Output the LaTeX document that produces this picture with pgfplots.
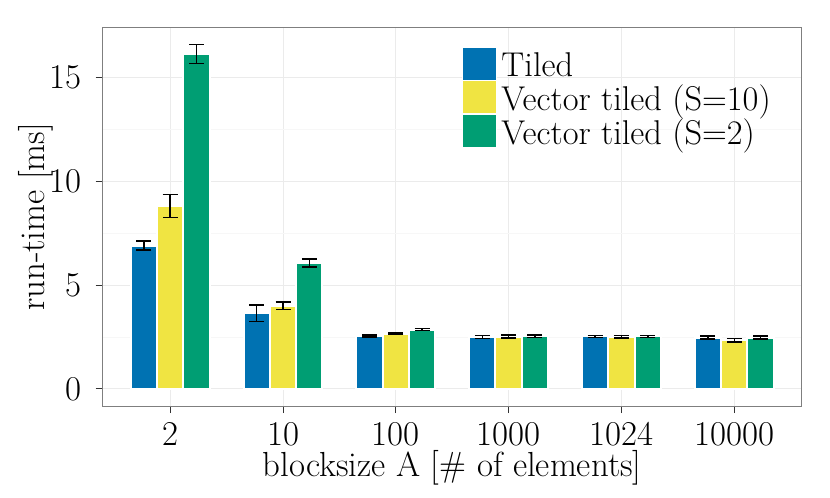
\documentclass[border=0pt]{standalone}
\usepackage{fontspec}
\usepackage{pgfplots}
\pgfplotsset{compat=1.18}
\usepackage{pgfplotstable}
\definecolor{cblue}{HTML}{0072B2}
\definecolor{cyellow}{HTML}{F0E442}
\definecolor{cgreen}{HTML}{009E73}
\definecolor{gmajor}{HTML}{EBEBEB}
\definecolor{gminor}{HTML}{F7F7F7}
\definecolor{gborder}{HTML}{7F7F7F}
\definecolor{gtick}{HTML}{333333}
\pgfplotstableread{
x y e
1 6.90 0.22
2 3.65 0.40
3 2.55 0.05
4 2.50 0.07
5 2.53 0.05
6 2.47 0.08
}\tiled
\pgfplotstableread{
x y e
1 8.80 0.55
2 4.00 0.18
3 2.66 0.03
4 2.52 0.08
5 2.51 0.06
6 2.34 0.08
}\vecten
\pgfplotstableread{
x y e
1 16.12 0.45
2 6.05 0.19
3 2.86 0.04
4 2.54 0.06
5 2.53 0.05
6 2.47 0.07
}\vectwo
\begin{document}
\begin{tikzpicture}
\useasboundingbox (0,0) rectangle (415pt,249pt);
\begin{axis}[
  at={(51.25pt,46pt)}, anchor=south west,
  scale only axis, width=349.75pt, height=189pt,
  xmin=0.4, xmax=6.6, ymin=-0.82, ymax=17.37,
  xtick={1,2,3,4,5,6},
  xticklabels={2,10,100,1000,1024,10000},
  ytick={0,5,10,15},
  minor ytick={2.5,7.5,12.5},
  grid=both,
  major grid style={gmajor, line width=0.5pt},
  minor grid style={gminor, line width=0.4pt},
  axis line style={gborder, line width=0.5pt},
  tick align=outside,
  major tick length=3.5pt,
  minor tick length=0pt,
  tick style={gtick, line width=0.5pt},
  xtick pos=bottom, ytick pos=left,
  /pgf/number format/assume math mode=true,
  tick label style={font=\fontsize{17.4}{20}\selectfont, inner sep=0pt},
  xticklabel style={anchor=base, yshift=-16.4pt},
  yticklabel style={anchor=east, xshift=-6.6pt},
  every axis x label/.style={at={(axis description cs:0.5,-0.187)}, anchor=base},
  every axis y label/.style={at={(axis description cs:-0.0824,0.5)}, rotate=90, anchor=base},
  label style={font=\fontsize{17.4}{20}\selectfont},
  xlabel={blocksize A [\# of elements]},
  ylabel={run-time [ms]},
  ybar, bar width=0.2333,
  legend style={at={(axis description cs:0.5129,0.952)}, anchor=north west,
    draw=none, fill=none, inner sep=0pt, row sep=0pt, column sep=2.5pt,
    nodes={inner sep=0pt, text height=15pt, text depth=1.5pt, font=\fontsize{17.2}{20}\selectfont}},
  legend cell align=left,
  mybar/.style={draw=white, line width=1pt,
    legend image code/.code={\filldraw[##1, line width=0.4pt] (0pt,-8.25pt) rectangle (17pt,8.25pt);},
    error bars/.cd, y dir=both, y explicit,
    error bar style={black, line width=0.8pt},
    error mark options={rotate=90, mark size=3.75pt, line width=0.8pt, black}},
]
\addplot[fill=cblue, bar shift=-0.2333, mybar] table[x=x, y=y, y error=e] {\tiled};
\addplot[fill=cyellow, bar shift=0, mybar] table[x=x, y=y, y error=e] {\vecten};
\addplot[fill=cgreen, bar shift=0.2333, mybar] table[x=x, y=y, y error=e] {\vectwo};
\legend{Tiled, Vector tiled (S=10), Vector tiled (S=2)}
\end{axis}
\end{tikzpicture}
\end{document}
